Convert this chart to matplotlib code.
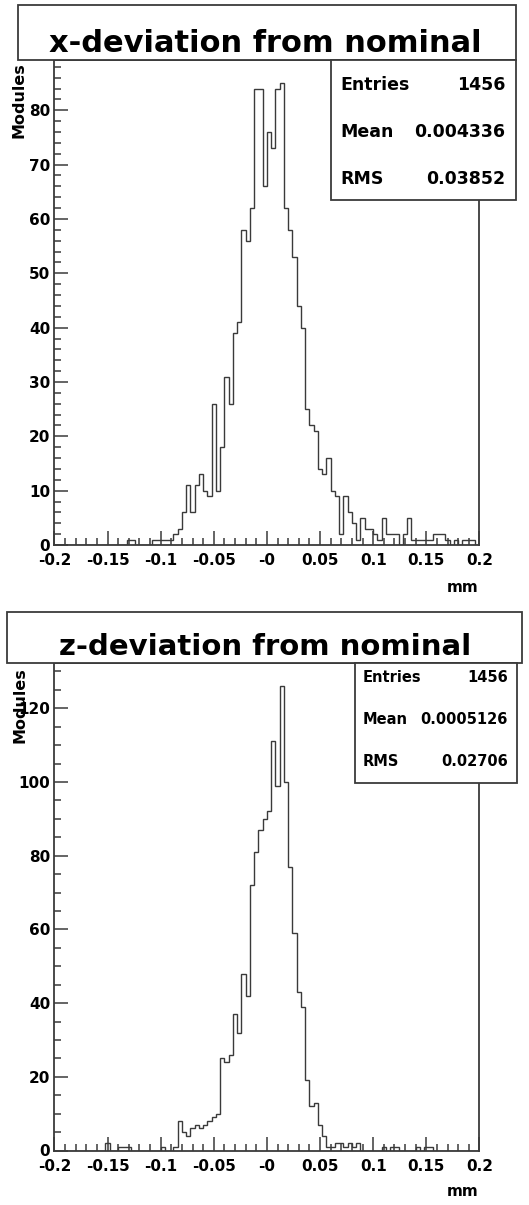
import matplotlib
matplotlib.use("Agg")
import matplotlib.pyplot as plt
import numpy as np
from matplotlib.patches import Rectangle
from matplotlib.ticker import MultipleLocator


W, H = 529, 1205
LINE_COLOR = "#3a3a3a"

plt.rcParams["font.family"] = "DejaVu Sans"
plt.rcParams["font.weight"] = "bold"

# histogram: 100 bins of 0.004 mm from -0.2 to 0.2
N_BINS = 100
X_RANGE = (-0.2, 0.2)

X_COUNTS = (
    [0] * 17
    + [1, 1, 0, 0, 0, 0, 1, 1, 1, 1, 1, 2, 3, 6, 11, 6, 11, 13, 10, 9]
    + [26, 10, 18, 31, 26, 39, 41, 58, 56, 62, 84, 84, 66, 76, 73, 84, 85, 62, 58, 53]
    + [44, 40, 25, 22, 21, 14, 13, 16, 10, 9, 2, 9, 6, 4, 1, 5, 3, 3, 2, 1]
    + [5, 2, 2, 2, 0, 2, 5, 1, 1, 1, 1, 1, 2, 2, 2, 1, 0, 1, 0, 1, 1, 1, 0]
)

Z_COUNTS = (
    [0] * 12
    + [2, 0, 0, 1, 1, 1, 0, 0, 0, 0, 0, 0, 0, 1, 0, 0, 1, 8, 5, 4, 6, 7, 6, 7]
    + [8, 9, 10, 25, 24, 26, 37, 32, 48, 42, 72, 81, 87, 90, 92, 111, 99, 126, 100, 77]
    + [59, 43, 39, 19, 12, 13, 7, 4, 1, 1, 2, 2, 1, 2, 1, 2, 0, 0, 0, 0]
    + [0, 1, 0, 1, 1, 0, 0, 0, 0, 1, 0, 1, 1]
    + [0] * 11
)

X_TICKS = [-0.2, -0.15, -0.1, -0.05, 0.0, 0.05, 0.1, 0.15, 0.2]
X_TICK_LABELS = ["-0.2", "-0.15", "-0.1", "-0.05", "-0", "0.05", "0.1", "0.15", "0.2"]

TOP_Y_TICKS = [0, 10, 20, 30, 40, 50, 60, 70, 80]
BOTTOM_Y_TICKS = [0, 20, 40, 60, 80, 100, 120]

STAT_NAMES = ["Entries", "Mean", "RMS"]
X_STATS = ["1456", "0.004336", "0.03852"]
Z_STATS = ["1456", "0.0005126", "0.02706"]

TOP_TITLE = "x-deviation from nominal"
BOTTOM_TITLE = "z-deviation from nominal"
X_LABEL = "mm"
Y_LABEL = "Modules"


def fx(px):
    return px / W


def fy(py):
    return 1 - py / H


def add_box(fig, x0, y0, x1, y1):
    fig.add_artist(Rectangle(
        (fx(x0), fy(y1)), (x1 - x0) / W, (y1 - y0) / H,
        transform=fig.transFigure, facecolor="white",
        edgecolor=LINE_COLOR, lw=1.3, zorder=5,
    ))


def draw_panel(fig, counts, y_ticks, y_minor, geom):
    left, top, right, bottom = geom["axes"]
    ax = fig.add_axes([fx(left), fy(bottom), (right - left) / W, (bottom - top) / H])

    edges = np.linspace(X_RANGE[0], X_RANGE[1], N_BINS + 1)
    ax.stairs(counts, edges, color=LINE_COLOR, lw=1.0)

    ax.set_xlim(*X_RANGE)
    ax.set_ylim(0, max(counts) * 1.05)

    ax.set_xticks(X_TICKS)
    ax.set_xticklabels(X_TICK_LABELS)
    ax.xaxis.set_minor_locator(MultipleLocator(0.01))
    ax.set_yticks(y_ticks)
    ax.yaxis.set_minor_locator(MultipleLocator(y_minor))

    ax.tick_params(axis="both", which="both", direction="in", color=LINE_COLOR,
                   width=1.1, top=False, right=False)
    ax.tick_params(axis="both", which="major", length=10)
    ax.tick_params(axis="both", which="minor", length=5)
    ax.tick_params(axis="x", which="major", labelsize=11, pad=6)
    ax.tick_params(axis="y", which="major", labelsize=11, pad=3)

    for spine in ax.spines.values():
        spine.set_color(LINE_COLOR)
        spine.set_linewidth(1.3)

    # title box
    tx0, ty0, tx1, ty1 = geom["title_box"]
    add_box(fig, tx0, ty0, tx1, ty1)
    fig.text(fx(geom["title_xy"][0]), fy(geom["title_xy"][1]), geom["title"],
             ha="center", va="baseline", fontsize=geom["title_size"],
             fontweight="bold", zorder=6)

    # stats box
    sx0, sy0, sx1, sy1 = geom["stats_box"]
    add_box(fig, sx0, sy0, sx1, sy1)
    for name, value, row_y in zip(STAT_NAMES, geom["stats"], geom["stats_rows"]):
        fig.text(fx(geom["stats_x"][0]), fy(row_y), name, ha="left", va="center",
                 fontsize=geom["stats_size"], zorder=6)
        fig.text(fx(geom["stats_x"][1]), fy(row_y), value, ha="right", va="center",
                 fontsize=geom["stats_size"], zorder=6)

    # axis titles, ROOT style
    fig.text(fx(right - 1), fy(geom["mm_y"]), X_LABEL, ha="right", va="baseline",
             fontsize=11)
    fig.text(fx(geom["ylabel_xy"][0]), fy(geom["ylabel_xy"][1]), Y_LABEL,
             rotation=90, ha="center", va="top", fontsize=11.5, zorder=6)
    return ax


def main():
    fig = plt.figure(figsize=(W / 100, H / 100), dpi=100)
    fig.patch.set_facecolor("white")

    draw_panel(fig, X_COUNTS, TOP_Y_TICKS, 2, {
        "axes": (54.4, 60, 479.4, 545),
        "title_box": (18, 5, 516, 60),
        "title": TOP_TITLE,
        "title_xy": (265.5, 51.7),
        "title_size": 22,
        "stats_box": (331, 60, 516, 200),
        "stats": X_STATS,
        "stats_rows": [85, 132, 179],
        "stats_x": (340, 505),
        "stats_size": 12.5,
        "mm_y": 591.5,
        "ylabel_xy": (19, 62),
    })

    draw_panel(fig, Z_COUNTS, BOTTOM_Y_TICKS, 5, {
        "axes": (54.4, 663, 479.4, 1150.5),
        "title_box": (7, 612, 522, 663),
        "title": BOTTOM_TITLE,
        "title_xy": (265, 655),
        "title_size": 21,
        "stats_box": (355, 663, 517, 783),
        "stats": Z_STATS,
        "stats_rows": [677, 719, 762],
        "stats_x": (363, 508),
        "stats_size": 10.5,
        "mm_y": 1196.5,
        "ylabel_xy": (20, 667),
    })

    fig.savefig("out.png", dpi=100)
    plt.close(fig)


if __name__ == "__main__":
    main()
